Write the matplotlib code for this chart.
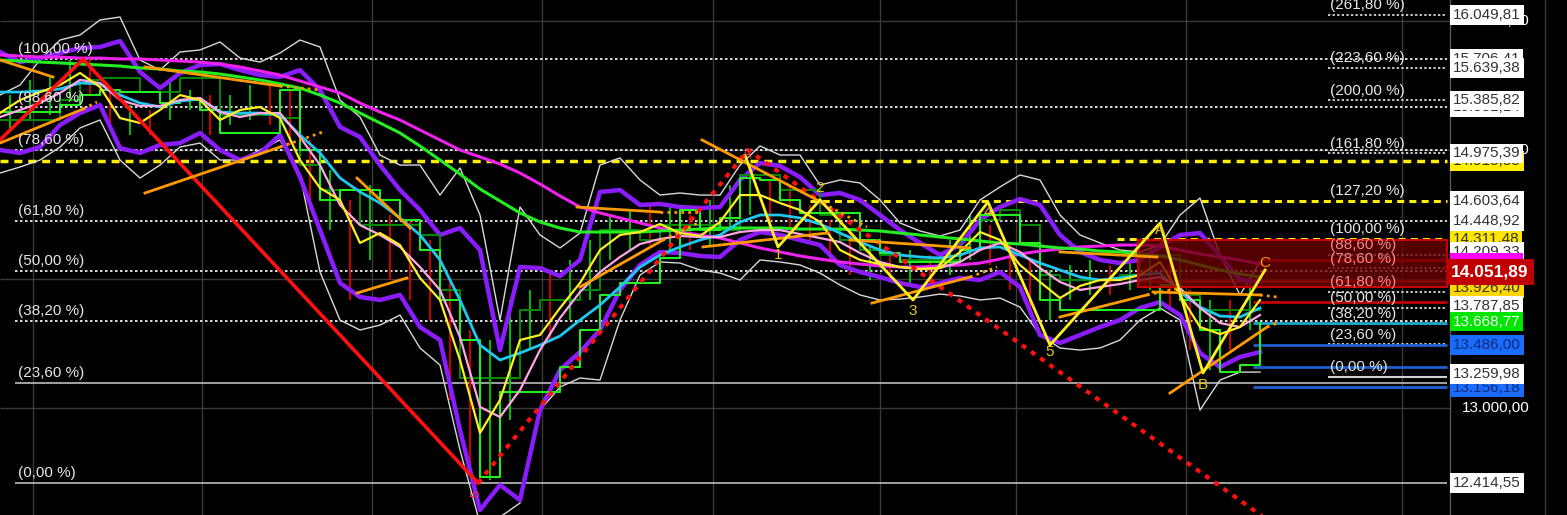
import matplotlib
matplotlib.use("Agg")
import matplotlib.pyplot as plt
from matplotlib.patches import Rectangle
import numpy as np

plt.rcParams['font.family'] = ['Liberation Sans', 'DejaVu Sans']

# one sample per bar block, x = block index
bars = np.arange(64)

magenta_ma = [15739, 15731, 15723, 15723, 15715, 15715, 15708, 15708, 15700, 15692,
              15684, 15669, 15646, 15615, 15583, 15537, 15490, 15444, 15366, 15296,
              15234, 15156, 15079, 15001, 14947, 14892, 14822, 14737, 14644, 14558,
              14512, 14473, 14434, 14395, 14364, 14341, 14317, 14279, 14240, 14209,
              14178, 14154, 14131, 14115, 14100, 14092, 14092, 14100, 14108, 14123,
              14154, 14193, 14216, 14232, 14248, 14255, 14263, 14263, 14255, 14224,
              14193, 14170, 14147, 14115]
green_ma = [15700, 15692, 15684, 15677, 15669, 15661, 15653, 15638, 15630, 15615,
            15607, 15591, 15568, 15545, 15514, 15482, 15428, 15366, 15288, 15211,
            15133, 15032, 14923, 14814, 14698, 14605, 14512, 14442, 14395, 14364,
            14364, 14364, 14364, 14372, 14379, 14387, 14395, 14395, 14395, 14395,
            14387, 14387, 14387, 14379, 14372, 14356, 14341, 14325, 14310, 14294,
            14279, 14271, 14255, 14240, 14232, 14216, 14209, 14193, 14178, 14147,
            14108, 14069, 14038, 14014]
yellow_ma = [15288, 15389, 15451, 15506, 15599, 15490, 15249, 15211, 15312, 15428,
             15389, 15234, 15312, 15335, 15249, 14923, 14706, 14613, 14279, 14356,
             14263, 14007, 13836, 13370, 12803, 13059, 13525, 13564, 13774, 13968,
             14224, 14341, 14364, 14426, 14356, 14333, 14442, 14651, 14651, 14589,
             14535, 14442, 14224, 14147, 14115, 14092, 14077, 14084, 14209, 14364,
             14302, 14108, 13976, 13851, 13945, 13991, 13991, 14030, 14131, 13875,
             13626, 13571, 13626, 13836]
cyan_ma = [15451, 15451, 15459, 15475, 15521, 15514, 15428, 15366, 15335, 15381,
           15397, 15296, 15288, 15288, 15273, 15117, 14978, 14783, 14675, 14589,
           14473, 14341, 14147, 13836, 13486, 13370, 13424, 13486, 13556, 13680,
           13797, 13937, 14092, 14185, 14248, 14302, 14341, 14442, 14496, 14496,
           14473, 14426, 14356, 14286, 14224, 14185, 14170, 14162, 14185, 14240,
           14248, 14185, 14123, 14069, 14014, 13991, 14007, 14030, 14045, 13898,
           13781, 13711, 13704, 13774]
pink_ma = [15257, 15312, 15366, 15444, 15545, 15521, 15389, 15343, 15343, 15389,
           15405, 15296, 15257, 15288, 15288, 15102, 14884, 14574, 14418, 14341,
           14248, 14092, 13914, 13548, 13005, 12927, 13137, 13447, 13696, 13898,
           14053, 14170, 14271, 14310, 14333, 14325, 14325, 14364, 14379, 14379,
           14348, 14317, 14286, 14201, 14131, 14092, 14077, 14084, 14131, 14224,
           14279, 14209, 14084, 13976, 13914, 13937, 13960, 13991, 14014, 13929,
           13774, 13657, 13626, 13719]
purple_up = [15762, 15684, 15715, 15754, 15793, 15801, 15847, 15607, 15482, 15599,
             15661, 15669, 15622, 15583, 15568, 15622, 15467, 15180, 15102, 14884,
             14690, 14535, 14341, 14395, 14224, 13447, 14092, 14084, 14022, 14147,
             14675, 14690, 14574, 14582, 14558, 14550, 14558, 14768, 14900, 14877,
             14791, 14651, 14667, 14613, 14496, 14379, 14279, 14185, 14263, 14457,
             14558, 14620, 14574, 14341, 14209, 14147, 14123, 14147, 14248, 14341,
             14356, 14178, 13991, 13976]
purple_dn = [15001, 14978, 15024, 15195, 15288, 15350, 15016, 14978, 15040, 15055,
             15133, 15001, 14923, 14978, 15117, 14791, 14379, 13968, 13859, 13836,
             13875, 13626, 13525, 12826, 12205, 12399, 12282, 12981, 13292, 13432,
             13603, 13914, 14108, 14209, 14201, 14178, 14170, 14302, 14364, 14341,
             14302, 14263, 14108, 14053, 14014, 13968, 13937, 13968, 14007, 13991,
             14053, 13937, 13564, 13502, 13564, 13626, 13680, 13774, 13820, 13719,
             13424, 13315, 13393, 13432]
white_up = [15428, 15506, 15700, 15855, 15894, 16011, 16034, 15700, 15622, 15762,
            15778, 15840, 15715, 15684, 15754, 15855, 15801, 15389, 15257, 14962,
            14884, 14884, 14651, 14861, 14496, 13680, 14558, 14341, 14240, 14356,
            14884, 14939, 14768, 14651, 14667, 14651, 14651, 14884, 15032, 14962,
            14962, 14729, 14768, 14745, 14613, 14434, 14372, 14333, 14379, 14613,
            14714, 14807, 14768, 14496, 14341, 14279, 14224, 14209, 14263, 14496,
            14628, 14185, 13875, 14131]
white_dn = [14822, 14869, 14923, 15024, 15172, 15234, 14923, 14783, 14884, 15024,
            15055, 14923, 14923, 15001, 15079, 14807, 14053, 13680, 13603, 13641,
            13719, 13463, 13331, 12671, 12100, 12150, 12259, 12981, 13160, 13230,
            13214, 13680, 14030, 14131, 14123, 14069, 14045, 13991, 14147, 14131,
            14108, 14045, 13952, 13875, 13836, 13843, 13859, 13882, 13867, 13836,
            13851, 13781, 13564, 13463, 13447, 13463, 13525, 13680, 13774, 13680,
            12981, 13214, 13276, 13276]
lime_step = [15296, 15296, 15296, 15350, 15428, 15467, 15451, 15451, 15366, 15389,
             15312, 15133, 15133, 15133, 15467, 15001, 14613, 14690, 14690, 14613,
             14457, 14224, 13836, 13525, 12461, 13121, 13121, 13121, 13315, 13603,
             13875, 13968, 13968, 14162, 14535, 14379, 14473, 14783, 14768, 14613,
             14512, 14512, 14512, 14302, 14201, 14131, 14131, 14131, 14224, 14496,
             14496, 14279, 13836, 13758, 13758, 13758, 13758, 13758, 13952, 13836,
             13603, 13276, 13331, 13657]
dkgreen_step = [15234, 15234, 15234, 15389, 15545, 15560, 15560, 15451, 15451, 15560,
                15560, 15273, 15273, 15273, 15249, 14884, 14690, 14690, 14418, 14418,
                14418, 14341, 13914, 13230, 13230, 13230, 13758, 13836, 13836, 13914,
                14379, 14379, 14302, 14418, 14418, 14418, 14379, 14807, 14807, 14690,
                14690, 14496, 14302, 14224, 14185, 14147, 14147, 14147, 14302, 14457,
                14535, 14418, 14030, 13991, 13991, 13991, 14030, 14185, 14185, 13875,
                13758, 13758, 13758, 13758]

candle_hi = [15428, 15545, 15583, 15700, 15715, 15467, 15350, 15312, 15545, 15467,
             15428, 15428, 15506, 15545, 15467, 15079, 14846, 14613, 14729, 14496,
             14457, 14302, 13991, 13603, 13525, 13836, 13914, 14069, 14147, 14302,
             14496, 14535, 14574, 14574, 14496, 14613, 14729, 14884, 14768, 14729,
             14574, 14457, 14379, 14263, 14224, 14224, 14185, 14302, 14496, 14418,
             14263, 14147, 14069, 14108, 14147, 14108, 14147, 14224, 14147, 13914,
             13836, 13836, 13991]
candle_lo = [15156, 15234, 15273, 15389, 15428, 15156, 15117, 15117, 15234, 15312,
             15117, 15195, 15234, 15195, 15040, 14535, 14379, 13836, 14147, 13991,
             13836, 13680, 13059, 12515, 12438, 12904, 13447, 13525, 13680, 13836,
             14147, 14224, 14263, 14224, 14224, 14263, 14379, 14496, 14418, 14379,
             14302, 14147, 14030, 13991, 13991, 13952, 13952, 14030, 14147, 14108,
             13914, 13758, 13680, 13836, 13875, 13875, 13914, 13914, 13758, 13447,
             13292, 13447, 13603]
candle_dir = "ggggrrgrgg" "rggrrrgrgr" "rrrrgggrgg" "ggrgrgggrr" "rrrgrgrggr" "rrgggrggrr" "grg"

# elliott swing (red) and wave count (yellow)
red_swing_x = [0.0, 4.15, 23.9]
red_swing_p = [15079, 15706.41, 12414.55]
red_dot_x = [23.9, 37.4, 64.5]
red_dot_p = [12414.55, 15001, 12003]
wave_x = [37.25, 38.9, 41.0, 45.65, 49.4, 52.5, 58.0, 60.15, 63.25]
wave_p = [14962, 14248, 14613, 13836, 14597, 13486, 14434, 13269, 14069]
wave_names = ['', '1', '2', '3', '4', '5', 'A', 'B', 'C']
wave_lbl_p = [0, 14185, 14706, 13750, 14519, 13432, 14380, 13175, 14123]

# orange trend lines: (x0, p0, x1, p1, dotted extension x, p or None)
trend_lines = [
    (0.0, 15700, 2.65, 15568, None, None),
    (0.0, 15055, 4.15, 15319, 4.85, 15374),
    (7.25, 15646, 14.0, 15498, 16.0, 15467),
    (7.25, 14667, 14.0, 15024, 16.15, 15141),
    (17.85, 14783, 20.5, 14395, None, None),
    (17.85, 13890, 20.35, 14007, None, None),
    (28.85, 14558, 33.0, 14519, 35.0, 14519),
    (29.0, 13937, 33.15, 14302, 35.0, 14442),
    (35.1, 15079, 40.85, 14613, 43.35, 14403),
    (35.15, 14248, 41.35, 14356, None, None),
    (42.5, 14302, 48.5, 14240, None, None),
    (43.6, 13812, 48.5, 14014, 49.85, 14092),
    (53.0, 13704, 57.35, 13875, 59.0, 13929),
    (53.0, 14209, 57.85, 14170, None, None),
    (57.65, 13898, 63.0, 13875, 63.85, 13859),
    (58.5, 13113, 63.35, 13626, 63.85, 13657),
]

# fibonacci anchors
left_fib_lo, left_fib_hi = 12414.55, 15706.41
left_ratios = [1.0, 0.886, 0.786, 0.618, 0.5, 0.382, 0.236, 0.0]
right_fib_lo, right_fib_hi = 13236.98, 14311.40
right_ratios = [2.618, 2.236, 2.0, 1.618, 1.272, 1.0, 0.886, 0.786, 0.618, 0.5, 0.382, 0.236, 0.0]

yellow_level = 14915.33
red_zone = (13937, 14302)
grid_x = [1.65, 10.1, 18.6, 27.1, 35.65, 44.0, 50.8, 59.3, 70.1]
grid_y = [13000, 14000, 15000, 16000]

# price tags on the right, drawn bottom to top: (value, face, text colour)
tags = [
    (15706.41, 'white', '#333333'), (15331.14, 'white', '#333333'),
    (14915.33, '#ffee00', '#333333'), (14311.48, '#ffe600', '#333333'),
    (14209.33, 'white', '#333333'), (14128.70, '#ff00ff', '#ff00ff'),
    (13156.18, '#1a6cff', '#0b2c77'), (13926.40, '#ffd700', '#333333'),
    (13787.85, 'white', '#333333'), (13668.77, '#00e600', 'white'),
    (13486.00, '#1a6cff', '#0b2c77'), (13259.98, 'white', '#333333'),
    (16049.81, 'white', '#333333'), (15639.38, 'white', '#333333'),
    (15385.82, 'white', '#333333'), (14975.39, 'white', '#333333'),
    (14603.64, 'white', '#333333'), (14448.92, 'white', '#333333'),
    (12414.55, 'white', '#333333'),
]
last_price = 14051.89


def eu(v):
    return f"{v:,.2f}".replace(',', 'X').replace('.', ',').replace('X', '.')


def pct(r):
    return f"({r * 100:.2f} %)".replace('.', ',')


fig = plt.figure(figsize=(15.67, 5.15), dpi=100, facecolor='black')
ax = fig.add_axes([0, 0, 1, 1])
ax.set_facecolor('black')
ax.set_xlim(0, 78.35)
ax.set_ylim(12166, 16166)
ax.axis('off')
x_end = 72.35

# grid
for gx in grid_x:
    ax.axvline(gx, color='#3a3a3a', lw=1, zorder=0)
for gy in grid_y:
    ax.hlines(gy, 0, 72.5, color='#3a3a3a', lw=1, zorder=0)
ax.axvline(72.5, color='#5a5a5a', lw=1, zorder=0)
ax.axvline(77.25, color='#3a3a3a', lw=1, zorder=0)

# left fibonacci
for r in left_ratios:
    lvl = left_fib_lo + r * (left_fib_hi - left_fib_lo)
    ls = '-' if r in (0.0, 0.236) else (0, (1.5, 1.5))
    col = '#bdbdbd' if r in (0.0, 0.236) else 'white'
    ax.hlines(lvl, 0.75, x_end, colors=col, lw=1.2, linestyles=ls, zorder=1)
    ax.annotate(pct(r), (0.9, lvl), xytext=(0, 2), textcoords='offset points',
                color='#e6e6e6', fontsize=11, va='bottom', ha='left', zorder=9)

# yellow dashed levels
ax.hlines(yellow_level, 0, x_end, colors='#ffee00', lw=2.5, linestyles=(0, (2.3, 1.7)), zorder=2)

# right fibonacci
for r in right_ratios:
    lvl = right_fib_lo + r * (right_fib_hi - right_fib_lo)
    if r == 1.272:
        ax.hlines(lvl, 40.5, x_end, colors='#ffee00', lw=2.2, linestyles=(0, (2.3, 1.7)), zorder=2)
    elif r == 1.0:
        ax.hlines(lvl, 55.85, x_end, colors='#ffee00', lw=2.2, linestyles=(0, (2.3, 1.7)), zorder=2)
    elif r == 0.0:
        ax.hlines(lvl, 66.4, x_end, colors='#d0d0d0', lw=1.5, zorder=2)
    else:
        ax.hlines(lvl, 66.4, x_end, colors='white', lw=1.1, linestyles=(0, (1.5, 1.5)), zorder=2)
    tcol = '#f08a8a' if r in (0.886, 0.786, 0.618) else '#e6e6e6'
    ax.annotate(pct(r), (66.5, lvl), xytext=(0, 2), textcoords='offset points',
                color=tcol, fontsize=11, va='bottom', ha='left', zorder=9)

# horizontal indicator lines at the right
ax.hlines(14147, 63.0, x_end, colors='#d00000', lw=2, zorder=3)
ax.hlines(13983, 56.9, x_end, colors='#d00000', lw=2, zorder=3)
ax.hlines(13820, 62.65, x_end, colors='#c00000', lw=2, zorder=3)
ax.hlines(13657, 62.65, x_end, colors='#1aa7c8', lw=2, zorder=3)
for lvl in (13486, 13315, 13160):
    ax.hlines(lvl, 62.65, x_end, colors='#1f5fcf', lw=2, zorder=3)

# candles
cols = ['#00d000' if c == 'g' else '#e00000' for c in candle_dir]
ax.vlines(np.arange(len(candle_hi)) + 0.5, candle_lo, candle_hi, colors=cols, lw=1.3, zorder=3)

# bands
ax.plot(bars, white_up, color='#d8d8d8', lw=1.0, zorder=4)
ax.plot(bars, white_dn, color='#d8d8d8', lw=1.0, zorder=4)
ax.plot(bars, purple_up, color='#8a1cff', lw=3.2, zorder=4)
ax.plot(bars, purple_dn, color='#8a1cff', lw=3.2, zorder=4)

# steps and moving averages
ax.step(bars, dkgreen_step, where='post', color='#008c00', lw=1.4, zorder=5)
ax.step(bars, lime_step, where='post', color='#22ee22', lw=1.5, zorder=5)
ax.plot(bars, magenta_ma, color='#ee22ee', lw=2.2, zorder=5)
ax.plot(bars, green_ma, color='#22ee22', lw=2.2, zorder=5)
ax.plot(bars, cyan_ma, color='#1ec8f0', lw=2.0, zorder=5)
ax.plot(bars, pink_ma, color='#ffa6e6', lw=1.6, zorder=5)
ax.plot(bars, yellow_ma, color='#ffee22', lw=1.6, zorder=5)

# red zone
lo_z, hi_z = red_zone
ax.add_patch(Rectangle((56.9, lo_z), x_end - 56.9, hi_z - lo_z, fc=(0.42, 0, 0, 0.78),
                       ec='#c80000', lw=1.5, zorder=6))

# elliott swing
ax.plot(red_swing_x, red_swing_p, color='#ff1010', lw=2.6, zorder=7)
ax.plot(red_dot_x, red_dot_p, color='#ff1010', lw=3, linestyle=(0, (1.2, 1.5)), zorder=7)
ax.text(23.85, 12330, '5', color='#ff3030', fontsize=9, rotation=90, ha='center', va='center', zorder=9)
ax.text(37.35, 14960, 'A', color='#ff3030', fontsize=9, ha='center', va='center', zorder=9)

# orange trend lines
for x0, p0, x1, p1, xe, pe in trend_lines:
    ax.plot([x0, x1], [p0, p1], color='#ff9a00', lw=2, zorder=7)
    if xe is not None:
        ax.plot([x1, xe], [p1, pe], color='#ff9a00', lw=2, linestyle=(0, (1, 1.5)), zorder=7)

# wave count
ax.plot(wave_x, wave_p, color='#ffee22', lw=2, zorder=8)
for wx, name, lp in zip(wave_x, wave_names, wave_lbl_p):
    if name:
        c = '#ff9a00' if name == 'C' else '#e8c800'
        ax.text(wx, lp, name, color=c, fontsize=11, ha='center', va='center', zorder=9)

# right axis labels
for v in grid_y:
    ax.text(73.1, v, eu(v), color='white', fontsize=11, va='center', ha='left', zorder=10)
z = 11
for v, fc, tc in tags:
    ax.text(72.65, v, eu(v), color=tc, fontsize=11, va='center', ha='left', zorder=z,
            bbox=dict(boxstyle='square,pad=0.18', fc=fc, ec='none'))
    z += 1
ax.text(72.55, last_price, eu(last_price), color='white', fontsize=12.5, fontweight='bold',
        va='center', ha='left', zorder=z + 1,
        bbox=dict(boxstyle='square,pad=0.3', fc='#c00000', ec='none'))

fig.savefig('out.png', dpi=100, facecolor='black')
